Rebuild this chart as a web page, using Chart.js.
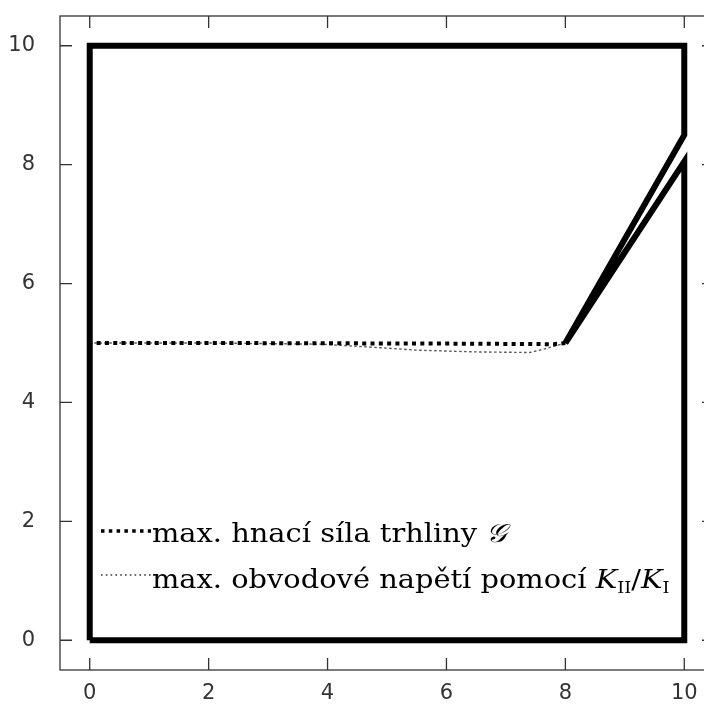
<!DOCTYPE html>
<html>
<head>
<meta charset="utf-8">
<script src="https://cdn.jsdelivr.net/npm/chart.js@4.4.1/dist/chart.umd.min.js"></script>
<style>
    html, body { margin: 0; padding: 0; background: #fff; overflow: hidden; }
    #wrap { position: relative; width: 760px; height: 718px; }
</style>
</head>
<body>
<div id="wrap"><canvas id="chart"></canvas></div>
<script>
// tick labels
const xTicks = [0, 2, 4, 6, 8, 10];
const yTicks = [0, 2, 4, 6, 8, 10];

// hranice oblasti se zářezem zprava
const boundaryX = [0, 10, 10, 8, 10, 10, 0, 0];
const boundaryY = [0, 0, 8.05, 5, 8.5, 10, 10, 0];

// dráha trhliny - max. hnací síla G
const crackGX = [8, 7.8, 7, 6, 4, 2, 0];
const crackGY = [5, 4.98, 4.985, 4.99, 4.995, 5, 5];

// dráha trhliny - max. obvodové napětí pomocí KII/KI
const crackKX = [8, 7.65, 7.4, 6.5, 5.5, 4.9, 3.9, 2, 0];
const crackKY = [5, 4.9, 4.84, 4.85, 4.88, 4.92, 4.98, 5, 5];

const toPts = (xs, ys) => xs.map((x, i) => ({ x: x, y: ys[i] }));

// rámeček, ticky dovnitř a legenda s indexy
const framePlugin = {
    id: 'frameLegend',
    afterDraw(chart) {
        const { ctx, chartArea: a, scales } = chart;
        ctx.save();
        ctx.strokeStyle = '#333';
        ctx.lineWidth = 1.3;
        ctx.strokeRect(a.left, a.top, a.right - a.left, a.bottom - a.top);
        const tl = 12;
        ctx.beginPath();
        scales.x.ticks.forEach(t => {
            const px = scales.x.getPixelForValue(t.value);
            ctx.moveTo(px, a.bottom); ctx.lineTo(px, a.bottom - tl);
            ctx.moveTo(px, a.top); ctx.lineTo(px, a.top + tl);
        });
        scales.y.ticks.forEach(t => {
            const py = scales.y.getPixelForValue(t.value);
            ctx.moveTo(a.left, py); ctx.lineTo(a.left + tl, py);
            ctx.moveTo(a.right, py); ctx.lineTo(a.right - tl, py);
        });
        ctx.stroke();

        // legenda
        const lx = a.left + 41, tx = a.left + 92;
        const y1 = a.bottom - 139, y2 = a.bottom - 95;
        ctx.strokeStyle = '#000';
        ctx.lineWidth = 3.5;
        ctx.setLineDash([3.5, 4.3]);
        ctx.beginPath(); ctx.moveTo(lx, y1); ctx.lineTo(lx + 50, y1); ctx.stroke();
        ctx.strokeStyle = '#333';
        ctx.lineWidth = 1.4;
        ctx.setLineDash([1.6, 3.2]);
        ctx.beginPath(); ctx.moveTo(lx, y2); ctx.lineTo(lx + 51, y2); ctx.stroke();
        ctx.setLineDash([]);

        ctx.fillStyle = '#000';
        ctx.textBaseline = 'alphabetic';
        ctx.textAlign = 'left';
        const base = '26px "DejaVu Serif"';
        const ital = 'italic 26px "DejaVu Serif"';
        const sub = '16px "DejaVu Serif"';
        const sx = 1.11;
        const run = (parts, x, y) => {
            ctx.save();
            ctx.translate(x, y);
            ctx.scale(sx, 1);
            let cx = 0;
            parts.forEach(p => {
                ctx.font = p[1];
                ctx.fillText(p[0], cx, p[2] || 0);
                cx += ctx.measureText(p[0]).width;
            });
            ctx.restore();
        };
        run([['max. hnací síla trhliny ', base], ['\u{1D4A2}', ital]], tx, y1 + 11);
        run([['max. obvodové napětí pomocí ', base], ['K', ital], ['II', sub, 5],
             ['/', base], ['K', ital], ['I', sub, 5]], tx, y2 + 13);
        ctx.restore();
    }
};

new Chart(document.getElementById('chart'), {
    type: 'scatter',
    data: {
        datasets: [
            {
                label: 'hranice',
                data: toPts(boundaryX, boundaryY),
                showLine: true,
                borderColor: '#000',
                borderWidth: 6,
                borderJoinStyle: 'miter',
                pointRadius: 0
            },
            {
                label: 'max. hnací síla trhliny G',
                data: toPts(crackGX, crackGY),
                showLine: true,
                borderColor: '#000',
                borderWidth: 4,
                borderDash: [4, 4.3],
                pointRadius: 0
            },
            {
                label: 'max. obvodové napětí pomocí KII/KI',
                data: toPts(crackKX, crackKY),
                showLine: true,
                borderColor: '#555',
                borderWidth: 1.4,
                borderDash: [2.5, 2.5],
                pointRadius: 0
            }
        ]
    },
    options: {
        responsive: true,
        maintainAspectRatio: false,
        animation: false,
        layout: { padding: { top: 16, right: 46, left: 0, bottom: 0 } },
        plugins: { legend: { display: false }, tooltip: { enabled: false } },
        scales: {
            x: {
                type: 'linear',
                min: -0.5, max: 10.5,
                afterBuildTicks: s => { s.ticks = xTicks.map(v => ({ value: v })); },
                afterFit: s => { s.height = 48; s.paddingLeft = 0; s.paddingRight = 0; },
                grid: { display: false },
                border: { display: false },
                ticks: { color: '#333', font: { family: 'DejaVu Sans', size: 21 }, padding: 3, maxRotation: 0 }
            },
            y: {
                type: 'linear',
                min: -0.5, max: 10.5,
                afterBuildTicks: s => { s.ticks = yTicks.map(v => ({ value: v })); },
                afterFit: s => { s.width = 60; s.paddingTop = 0; s.paddingBottom = 0; },
                grid: { display: false },
                border: { display: false },
                ticks: { color: '#333', font: { family: 'DejaVu Sans', size: 21 }, padding: 17 }
            }
        }
    },
    plugins: [framePlugin]
});
</script>
</body>
</html>
